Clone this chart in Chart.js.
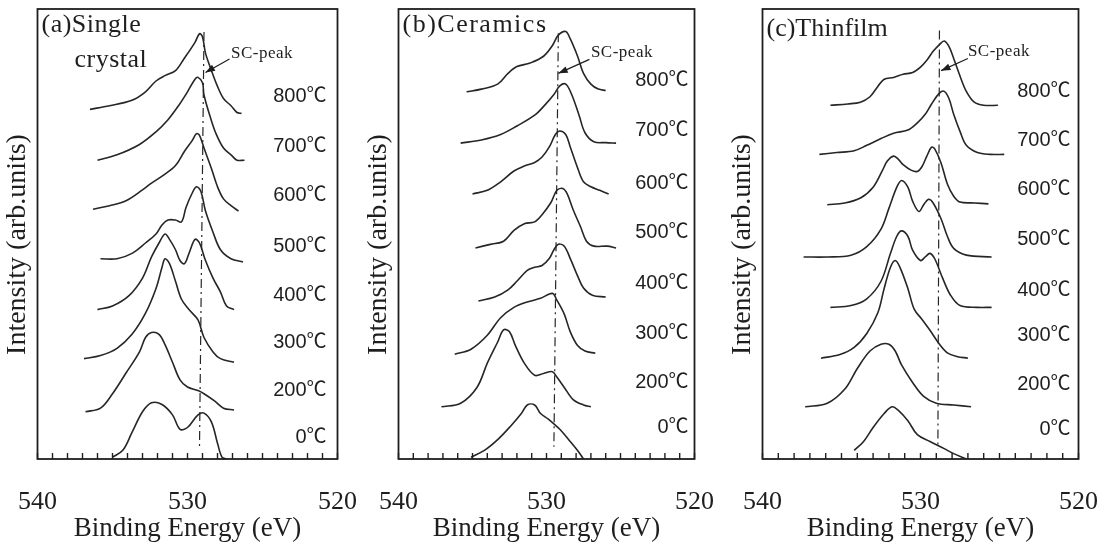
<!DOCTYPE html>
<html>
<head>
<meta charset="utf-8">
<script src="https://cdn.jsdelivr.net/npm/chart.js@4.4.0/dist/chart.umd.min.js"></script>
<style>
  body { margin: 0; background: #fff; width: 1104px; height: 549px; overflow: hidden; position: relative; }
  .panel { position: absolute; top: 0; height: 549px; }
</style>
</head>
<body>
<div class="panel" style="left:-10px;width:395px"><canvas id="chartA"></canvas></div>
<div class="panel" style="left:351px;width:391px"><canvas id="chartB"></canvas></div>
<div class="panel" style="left:715px;width:411px"><canvas id="chartC"></canvas></div>
<script>
// ==== labels ====
const tempLabels = ['800℃', '700℃', '600℃', '500℃', '400℃', '300℃', '200℃', '0℃'];
const xTickLabels = [540, 530, 520];

// ==== (a) single crystal: [binding energy eV, offset intensity] ====
const sc800 = [[536.5,77.7],[535.2,78.5],[533.7,79.7],[532.8,81.6],[532.1,84.0],[531.5,85.2],[530.8,86.3],[530.2,89.1],[529.5,92.6],[529.2,94.5],[529.0,93.8],[528.8,90.2],[528.4,86.3],[528.0,82.8],[527.6,80.1],[527.1,78.5],[526.7,77.0],[526.4,76.8]];
const sc700 = [[536.0,66.4],[534.7,67.6],[533.2,69.9],[532.1,72.7],[531.3,75.4],[530.6,78.5],[530.0,81.6],[529.5,84.4],[529.3,84.8],[529.0,83.6],[528.9,80.9],[528.5,76.2],[528.1,72.3],[527.6,69.1],[527.1,67.6],[526.7,66.4],[526.2,66.4]];
const sc600 = [[536.3,55.5],[535.2,56.3],[534.1,57.4],[533.0,59.8],[532.4,61.3],[531.5,63.3],[530.8,65.2],[530.2,68.4],[529.7,70.7],[529.4,72.3],[529.2,71.9],[528.9,69.1],[528.4,64.5],[528.0,60.5],[527.6,57.8],[527.1,56.3],[526.6,55.1]];
const sc500 = [[535.8,44.5],[534.7,44.5],[533.7,45.7],[532.8,48.0],[532.1,50.0],[531.7,52.0],[531.3,53.1],[530.8,53.1],[530.4,52.7],[530.1,55.9],[529.7,59.0],[529.4,60.5],[529.1,59.4],[528.8,55.1],[528.3,50.4],[527.8,46.5],[527.1,44.5],[526.3,43.8]];
const sc400 = [[536.0,33.2],[535.0,34.0],[533.9,36.3],[533.0,40.2],[532.4,44.9],[531.9,48.0],[531.5,50.0],[531.2,48.8],[530.8,46.5],[530.5,44.1],[530.2,43.4],[529.9,45.7],[529.5,48.8],[529.2,48.0],[528.8,44.1],[528.3,40.2],[527.8,37.1],[527.4,34.0],[526.9,33.2]];
const sc300 = [[536.9,22.3],[535.8,23.0],[534.7,24.6],[533.7,27.7],[532.8,32.4],[532.1,37.9],[531.7,42.6],[531.5,44.5],[531.2,43.4],[530.8,39.5],[530.4,35.5],[529.9,33.2],[529.3,30.9],[528.9,27.0],[528.3,23.8],[527.8,22.3],[526.9,21.5]];
const sc200 = [[536.8,10.5],[535.8,11.3],[535.0,14.5],[534.1,19.1],[533.2,23.8],[532.8,27.0],[532.4,28.1],[531.9,27.7],[531.5,25.4],[531.0,21.5],[530.5,17.6],[530.0,16.0],[529.3,15.2],[528.9,14.5],[528.2,12.9],[527.6,11.3],[526.9,10.9]];
const sc0   = [[535.0,0.4],[534.3,2.0],[533.7,5.9],[533.0,10.5],[532.4,12.5],[531.7,12.1],[531.0,9.8],[530.5,6.6],[530.0,7.0],[529.3,9.8],[528.9,10.2],[528.4,8.2],[528.0,3.5],[527.7,0.4],[527.4,0]];
const scPeak = [[528.9,94.9],[529.2,2.7]];

// ==== (b) ceramics ====
const ce800 = [[535.4,81.6],[534.4,82.2],[533.3,83.3],[532.6,85.7],[532.0,87.2],[531.1,88.0],[530.2,89.5],[529.6,91.9],[529.2,94.2],[528.7,95.0],[528.4,93.4],[527.9,89.5],[527.5,85.7],[527.0,83.3],[526.5,82.2],[526.0,81.9]];
const ce700 = [[535.8,70.2],[534.4,70.9],[533.1,72.1],[532.0,74.0],[530.8,76.4],[530.1,78.7],[529.5,81.0],[529.1,82.9],[528.7,83.3],[528.3,81.0],[527.8,76.4],[527.4,72.5],[526.8,70.5],[526.0,70.3],[525.3,70.2]];
const ce600 = [[535.0,58.9],[534.0,59.7],[533.1,61.6],[532.2,64.0],[531.5,65.1],[530.8,65.9],[530.3,67.1],[529.8,69.4],[529.4,72.1],[529.1,72.9],[528.7,72.1],[528.4,69.4],[527.9,64.7],[527.5,61.6],[527.0,60.5],[526.4,59.7],[525.8,58.9]];
const ce500 = [[534.8,46.9],[533.8,47.7],[532.9,48.4],[532.2,50.8],[531.5,52.3],[530.8,52.7],[530.3,54.3],[529.7,57.0],[529.3,59.7],[528.9,60.1],[528.6,58.9],[528.2,55.4],[527.7,51.6],[527.3,48.4],[526.8,47.3],[525.9,47.3],[525.3,46.9]];
const ce400 = [[534.6,35.1],[533.5,36.0],[532.6,37.6],[532.0,39.5],[531.3,41.9],[530.8,42.6],[530.3,43.0],[529.8,44.6],[529.5,46.5],[529.2,47.7],[528.8,47.3],[528.4,44.6],[527.9,40.7],[527.5,38.0],[526.9,36.4],[526.0,36.0]];
const ce300 = [[536.2,23.3],[535.1,24.4],[534.0,27.5],[533.1,31.4],[532.2,33.7],[531.3,34.9],[530.4,35.7],[529.6,36.8],[529.3,35.3],[528.8,32.2],[528.4,28.3],[527.9,25.2],[527.4,24.0],[526.7,23.5]];
const ce200 = [[537.1,11.6],[535.8,12.4],[534.7,15.9],[534.0,21.3],[533.3,26.0],[532.9,28.7],[532.5,28.3],[532.1,25.2],[531.5,21.3],[530.8,18.6],[530.2,19.0],[529.6,19.4],[529.3,18.2],[528.8,15.9],[528.2,13.2],[527.5,12.0],[527.0,11.6]];
const ce0   = [[535.1,0.4],[534.2,1.9],[533.3,4.3],[532.4,7.4],[531.7,10.1],[531.3,12.0],[530.8,12.0],[530.4,10.1],[529.9,8.9],[529.5,7.8],[529.1,6.6],[528.5,4.3],[527.9,1.9],[527.5,0]];
const cePeak = [[529.2,94.6],[529.5,2.7]];

// ==== (c) thin film ====
const tf800 = [[535.7,78.6],[534.6,78.9],[533.8,79.3],[533.2,80.5],[532.7,82.8],[532.3,84.4],[531.7,84.8],[531.1,85.5],[530.5,85.9],[530.0,87.1],[529.6,88.6],[529.2,90.6],[528.8,92.1],[528.5,92.9],[528.2,91.7],[527.9,89.0],[527.5,85.1],[527.1,81.7],[526.6,79.3],[526.0,78.6],[525.1,78.6]];
const tf700 = [[536.4,67.7],[535.3,68.1],[534.2,68.5],[533.4,69.7],[532.5,71.2],[531.7,72.4],[530.8,73.1],[530.2,74.7],[529.7,76.6],[529.3,78.9],[528.8,81.3],[528.5,81.7],[528.2,80.1],[527.9,76.6],[527.5,72.8],[527.1,69.7],[526.4,68.1],[525.6,67.7],[524.7,67.7]];
const tf600 = [[535.9,56.5],[534.8,56.9],[533.8,58.0],[533.0,60.4],[532.4,64.2],[532.1,66.2],[531.7,67.3],[531.4,66.6],[531.1,65.4],[530.6,64.2],[530.2,63.9],[529.9,65.0],[529.6,67.3],[529.3,69.3],[529.1,68.9],[528.7,65.8],[528.3,61.1],[527.9,58.4],[527.5,57.1],[526.6,56.9],[525.7,56.7]];
const tf500 = [[537.4,44.9],[535.9,44.9],[534.4,45.3],[533.4,47.2],[532.5,51.1],[532.0,55.7],[531.5,60.4],[531.2,61.9],[530.8,60.4],[530.5,57.3],[530.1,55.0],[529.8,56.5],[529.5,57.7],[529.2,56.9],[528.7,53.4],[528.3,49.5],[527.9,46.8],[527.1,45.3],[525.5,44.9]];
const tf400 = [[535.7,33.7],[534.4,34.1],[533.4,35.6],[532.5,39.5],[531.9,45.7],[531.5,49.5],[531.2,50.7],[530.8,49.5],[530.5,46.4],[530.0,44.1],[529.7,44.9],[529.4,45.7],[529.1,44.5],[528.6,40.2],[528.1,36.4],[527.5,34.1],[526.4,33.7],[525.5,33.7]];
const tf300 = [[536.3,22.4],[535.1,23.2],[534.2,24.8],[533.4,27.9],[532.7,32.5],[532.3,37.9],[531.9,42.6],[531.6,44.1],[531.3,42.6],[530.8,37.9],[530.4,33.3],[529.9,31.0],[529.4,28.6],[528.8,25.5],[528.3,23.6],[527.7,22.8],[527.0,22.4]];
const tf200 = [[537.3,11.6],[535.9,12.4],[534.8,15.5],[534.0,20.1],[533.2,24.0],[532.5,25.5],[532.0,25.5],[531.6,24.0],[531.2,20.9],[530.5,17.0],[529.8,13.9],[529.0,12.4],[527.9,12.0],[526.8,11.6]];
const tf0   = [[534.2,1.9],[533.6,3.9],[533.0,7.0],[532.3,10.1],[531.8,11.6],[531.4,10.8],[530.8,8.5],[530.2,5.4],[529.4,3.9],[528.5,2.3],[527.9,1.2],[527.1,0]];
const tfPeak = [[528.8,95.2],[528.9,2.3]];

const INK = '#1e1e1e';
const SERIF = '"Liberation Serif", "DejaVu Serif", serif';

// ==== decorations: frame, inward ticks, titles, temperature labels, SC-peak arrow ====
const decorPlugin = {
  id: 'decor',
  afterDatasetsDraw(chart, args, o) {
    const { ctx, chartArea: a, scales: { x, y } } = chart;
    ctx.save();
    ctx.strokeStyle = INK;
    ctx.fillStyle = INK;

    // inward minor ticks every 1 eV
    ctx.lineWidth = 1.4;
    x.ticks.forEach(t => {
      const px = x.getPixelForValue(t.value);
      ctx.beginPath();
      ctx.moveTo(px, a.bottom);
      ctx.lineTo(px, a.bottom - 6);
      ctx.stroke();
    });

    // frame
    ctx.lineWidth = 1.8;
    ctx.strokeRect(a.left, a.top, a.right - a.left, a.bottom - a.top);

    // panel title
    ctx.font = '26px ' + SERIF;
    ctx.textBaseline = 'middle';
    ctx.textAlign = 'left';
    ctx.letterSpacing = o.titleSpacing;
    o.title.forEach((s, i) => ctx.fillText(s, a.left + o.titleX[i], a.top + o.titleY[i]));
    ctx.letterSpacing = '0px';

    // temperature labels
    ctx.font = '20px "Liberation Sans", "Noto Sans CJK JP", sans-serif';
    ctx.textAlign = 'right';
    tempLabels.forEach((s, i) => ctx.fillText(s, a.right - o.tempPad, y.getPixelForValue(o.tempY[i])));

    // SC-peak label + arrow
    ctx.font = '17px ' + SERIF;
    ctx.textAlign = 'left';
    ctx.letterSpacing = '0.5px';
    ctx.fillText('SC-peak', x.getPixelForValue(o.scText[0]), y.getPixelForValue(o.scText[1]));
    ctx.letterSpacing = '0px';
    const x0 = x.getPixelForValue(o.arrow[0][0]), y0 = y.getPixelForValue(o.arrow[0][1]);
    const x1 = x.getPixelForValue(o.arrow[1][0]), y1 = y.getPixelForValue(o.arrow[1][1]);
    ctx.lineWidth = 1.2;
    ctx.beginPath();
    ctx.moveTo(x0, y0);
    ctx.lineTo(x1, y1);
    ctx.stroke();
    const ang = Math.atan2(y1 - y0, x1 - x0);
    ctx.beginPath();
    ctx.moveTo(x1, y1);
    ctx.lineTo(x1 - 10 * Math.cos(ang - 0.35), y1 - 10 * Math.sin(ang - 0.35));
    ctx.lineTo(x1 - 10 * Math.cos(ang + 0.35), y1 - 10 * Math.sin(ang + 0.35));
    ctx.closePath();
    ctx.fill();
    ctx.restore();
  }
};

function toXY(arr) {
  return arr.map(p => ({ x: p[0], y: p[1] }));
}

function makePanel(canvasId, curves, peak, decor) {
  const datasets = curves.map(c => ({
    data: toXY(c),
    borderColor: '#262626',
    borderWidth: 1.6,
    pointRadius: 0,
    tension: 0.35,
    fill: false
  }));
  datasets.push({
    data: toXY(peak),
    borderColor: '#262626',
    borderWidth: 1.2,
    borderDash: [9, 4, 2, 4],
    pointRadius: 0,
    fill: false
  });

  return new Chart(document.getElementById(canvasId), {
    type: 'line',
    data: { datasets },
    plugins: [decorPlugin],
    options: {
      animation: false,
      responsive: true,
      maintainAspectRatio: false,
      layout: { padding: { top: 9, right: 25, left: 0, bottom: 0 } },
      plugins: {
        legend: { display: false },
        tooltip: { enabled: false },
        decor
      },
      scales: {
        x: {
          type: 'linear',
          min: 520,
          max: 540,
          reverse: true,
          afterFit: s => { s.height = 90; },
          grid: { display: false, drawTicks: false },
          border: { display: false },
          ticks: {
            stepSize: 1,
            autoSkip: false,
            maxRotation: 0,
            padding: 28,
            color: INK,
            font: { family: SERIF, size: 26 },
            callback: v => xTickLabels.includes(v) ? String(v) : ''
          },
          title: {
            display: true,
            text: 'Binding Energy (eV)',
            color: INK,
            font: { family: SERIF, size: 27 },
            padding: { top: 0, bottom: 4 }
          }
        },
        y: {
          min: 0,
          max: 100,
          afterFit: s => { s.width = 37; },
          grid: { display: false },
          border: { display: false },
          ticks: { display: false },
          title: {
            display: true,
            text: 'Intensity (arb.units)   ',
            color: INK,
            font: { family: SERIF, size: 28 },
            padding: 0
          }
        }
      }
    }
  });
}

makePanel('chartA',
  [sc800, sc700, sc600, sc500, sc400, sc300, sc200, sc0], scPeak,
  {
    title: ['(a)Single', 'crystal'], titleX: [4, 37], titleY: [16, 51], titleSpacing: '0.5px',
    tempY: [80.5, 69.5, 58.6, 47.3, 36.3, 25.8, 15.2, 4.7], tempPad: 11,
    scText: [527.1, 90.2], arrow: [[527.2, 88.9], [528.8, 85.9]]
  });

makePanel('chartB',
  [ce800, ce700, ce600, ce500, ce400, ce300, ce200, ce0], cePeak,
  {
    title: ['(b)Ceramics'], titleX: [4], titleY: [16], titleSpacing: '1.5px',
    tempY: [84.1, 72.9, 61.2, 50.4, 39.1, 27.9, 17.1, 7.0], tempPad: 6,
    scText: [527.0, 90.3], arrow: [[527.1, 88.8], [529.2, 85.7]]
  });

makePanel('chartC',
  [tf800, tf700, tf600, tf500, tf400, tf300, tf200, tf0], tfPeak,
  {
    title: ['(c)Thinfilm'], titleX: [4], titleY: [20], titleSpacing: '0px',
    tempY: [81.7, 70.8, 60.0, 48.8, 37.5, 27.5, 16.6, 6.6], tempPad: 8,
    scText: [527.0, 90.6], arrow: [[527.0, 89.0], [528.7, 86.3]]
  });
</script>
</body>
</html>
